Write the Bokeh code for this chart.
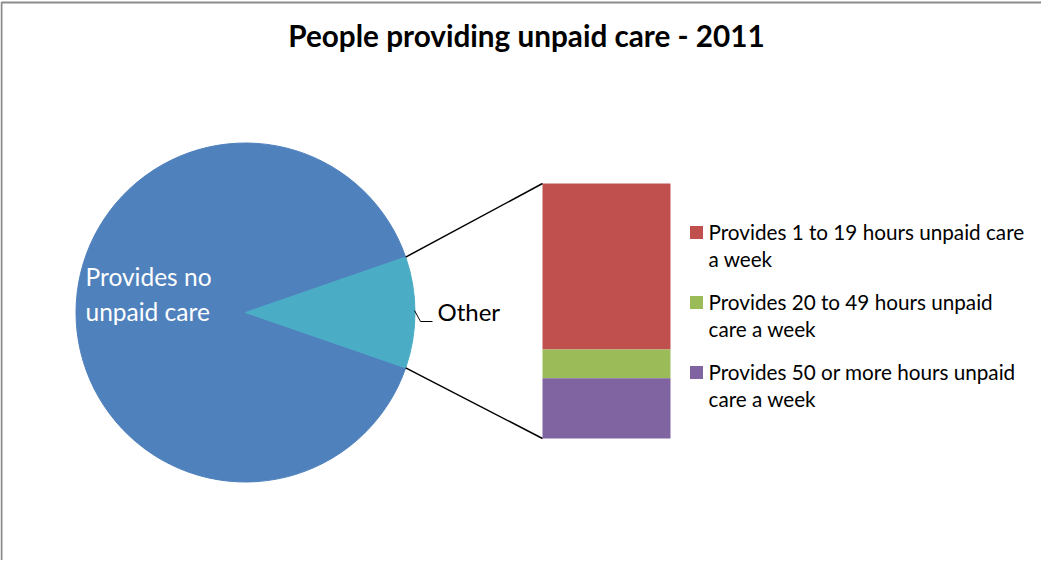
import math
from bokeh.plotting import figure
from bokeh.models import Range1d, Span
from bokeh.core.properties import value
from bokeh.embed import file_html
from bokeh.resources import INLINE

# ---- data (percent of people, 2011) ----
title = "People providing unpaid care - 2011"
pie_labels = ["Provides no unpaid care", "Other"]
no_care = 89.4
care_categories = [
    "Provides 1 to 19 hours unpaid care a week",
    "Provides 20 to 49 hours unpaid care a week",
    "Provides 50 or more hours unpaid care a week",
]
care_values = [6.9, 1.2, 2.5]
care_colors = ["#C0504D", "#9BBB59", "#8064A2"]
legend_lines = [
    ["Provides 1 to 19 hours unpaid care", "a week"],
    ["Provides 20 to 49 hours unpaid", "care a week"],
    ["Provides 50 or more hours unpaid", "care a week"],
]

FONT = "Lato"
W, H = 1041, 560
FW, FH = W, H

other = sum(care_values)
total = no_care + other

# y scale: bar value 0 at frame-pixel (446-8), sum at (191-8)
bar_bottom_t, bar_top_t = 438.0, 183.0
span = FH * other / (bar_bottom_t - bar_top_t)
ytop = bar_bottom_t * span / FH
ybot = ytop - span


def tx(px):
    return px - 8


def ty(py):
    t = py - 8
    return ytop - t / FH * span


p = figure(width=W, height=H, output_backend="svg", toolbar_location=None,
           x_range=Range1d(0, FW), y_range=Range1d(ybot, ytop),
           min_border=0)
p.title.visible = False
p.axis.visible = False
p.grid.visible = False
p.outline_line_color = None
p.border_fill_color = "white"
p.background_fill_color = "white"

# chart frame (top and left edges visible)
p.line(x=[tx(9), tx(9), FW], y=[ybot, ty(10), ty(10)], line_color="#8c8c8c", line_width=2)

# ---- title ----
p.text(x=[tx(534)], y=[ty(42.5)], text=[title], text_align="center", text_baseline="middle",
       text_font=value(FONT), text_font_style="bold", text_font_size="29.7px", text_color="black")

# ---- pie ----
cx_px, cy_px, r = 253.0, 320.0, 169.5
half = math.pi * other / total
p.wedge(x=[tx(cx_px)], y=[ty(cy_px)], radius=r, radius_units="screen",
        start_angle=half, end_angle=2 * math.pi - half, color="#4F81BD")
p.wedge(x=[tx(cx_px)], y=[ty(cy_px)], radius=r, radius_units="screen",
        start_angle=-half, end_angle=half, color="#4BACC6")

# pie label
p.text(x=[tx(93), tx(93)], y=[ty(284), ty(319)], text=["Provides no", "unpaid care"],
       text_align="left", text_baseline="middle", text_font=value(FONT),
       text_font_size="24.5px", text_color="white")

# Other label with leader
p.line(x=[tx(422), tx(428), tx(440)], y=[ty(318), ty(329), ty(329)], line_color="black", line_width=1)
p.text(x=[tx(445)], y=[ty(319)], text=[pie_labels[1]], text_align="left", text_baseline="middle",
       text_font=value(FONT), text_font_size="24px", text_color="black")

# ---- bar of pie (first category on top) ----
bar_x = tx(614)
bar_w = 128
tops = []
acc = other
for v in care_values:
    tops.append(acc)
    acc -= v
bottoms = [t - v for t, v in zip(tops, care_values)]
p.vbar(x=[bar_x] * 3, width=bar_w, bottom=bottoms, top=tops, fill_color=care_colors, line_color=None)

# connector lines
ex = tx(cx_px + r * math.cos(half))
ey_top = ty(cy_px - r * math.sin(half))
ey_bot = ty(cy_px + r * math.sin(half))
bl = bar_x - bar_w / 2
p.segment(x0=[ex, ex], y0=[ey_top, ey_bot], x1=[bl, bl], y1=[other, 0],
          line_color="black", line_width=1.5)

# ---- legend ----
leg_y = [240, 310, 380]
for lines, col, yy in zip(legend_lines, care_colors, leg_y):
    p.rect(x=[tx(704)], y=[ty(yy)], width=13, height=13, width_units="screen", height_units="screen",
           fill_color=col, line_color=None)
    p.text(x=[tx(716), tx(716)], y=[ty(yy - 1), ty(yy + 26)], text=lines, text_align="left",
           text_baseline="middle", text_font=value(FONT), text_font_size="20.7px", text_color="black")

open("out.html", "w").write(file_html(p, INLINE))
